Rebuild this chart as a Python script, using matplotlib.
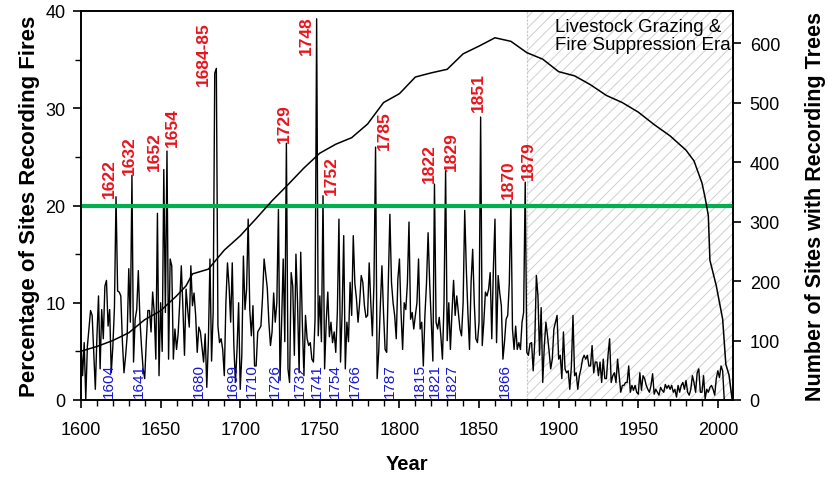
import numpy as np
import matplotlib
matplotlib.use("Agg")
import matplotlib.pyplot as plt
from matplotlib.ticker import MultipleLocator

plt.rcParams['font.family'] = ['Liberation Sans', 'DejaVu Sans']
plt.rcParams['hatch.linewidth'] = 0.7

# percentage of sites recording fire, one value per year 1600-2004
fire_years = np.arange(1600, 2005)
fire_pct = [
    6.0, 2.5, 5.9, 0.1, 5.5, 7.3, 9.2, 8.7, 5.0, 1.1,
    6.5, 10.7, 3.2, 9.3, 6.3, 11.7, 12.3, 7.6, 9.3, 2.8,
    5.5, 9.5, 20.9, 11.2, 11.1, 10.7, 6.0, 2.8, 4.5, 6.6,
    13.5, 8.0, 23.1, 3.9, 8.3, 9.3, 13.3, 8.3, 5.5, 3.2,
    2.2, 6.0, 9.2, 9.2, 7.0, 11.1, 9.0, 4.2, 19.2, 2.5,
    10.0, 5.0, 23.7, 9.0, 25.6, 4.2, 14.5, 13.8, 4.2, 7.3,
    5.2, 6.8, 10.0, 13.8, 9.5, 4.6, 11.4, 9.3, 7.5, 13.8,
    9.7, 11.0, 8.7, 4.9, 7.5, 7.0, 5.5, 3.9, 6.8, 1.3,
    6.0, 14.5, 4.0, 9.0, 33.6, 34.1, 7.6, 5.9, 6.3, 5.2,
    2.5, 10.0, 14.1, 11.7, 8.0, 14.1, 5.6, 1.8, 5.2, 10.0,
    1.1, 4.6, 14.8, 9.3, 11.4, 18.6, 9.3, 6.6, 9.7, 3.5,
    3.5, 7.0, 7.3, 7.6, 10.5, 14.5, 13.0, 11.5, 8.0, 5.6,
    7.0, 11.0, 8.0, 10.0, 19.6, 2.0, 8.0, 14.5, 6.0, 26.4,
    3.2, 1.8, 13.1, 11.7, 4.6, 15.0, 10.0, 2.8, 15.2, 8.0,
    2.5, 8.7, 6.3, 5.6, 5.9, 4.2, 3.9, 8.3, 39.2, 6.6,
    10.7, 6.0, 21.0, 3.2, 8.0, 11.1, 6.5, 8.0, 5.9, 7.0,
    4.9, 9.0, 18.6, 3.9, 9.0, 16.9, 3.2, 8.0, 6.0, 12.1,
    8.7, 16.9, 12.0, 10.4, 8.0, 10.0, 12.8, 12.1, 9.7, 8.5,
    8.7, 14.1, 10.0, 6.6, 12.0, 26.0, 2.2, 5.0, 9.7, 13.8,
    9.0, 5.2, 4.9, 12.0, 19.1, 12.1, 10.0, 8.7, 6.3, 12.4,
    14.5, 9.0, 5.2, 10.0, 9.3, 12.0, 18.3, 8.3, 9.0, 7.3,
    8.7, 10.0, 14.5, 7.3, 8.0, 3.5, 8.7, 12.0, 17.2, 12.0,
    8.0, 4.0, 22.2, 8.0, 7.3, 8.5, 6.6, 4.2, 10.0, 23.6,
    6.1, 10.0, 5.2, 9.0, 12.3, 8.7, 10.7, 9.0, 7.3, 6.6,
    10.0, 19.5, 13.5, 9.0, 5.2, 12.1, 15.5, 10.0, 6.3, 5.9,
    8.0, 29.1, 5.6, 8.0, 11.1, 10.7, 11.4, 13.1, 6.3, 13.5,
    18.6, 5.9, 12.8, 11.0, 9.7, 4.2, 6.0, 8.3, 8.7, 12.0,
    20.5, 7.3, 5.2, 7.6, 5.2, 5.9, 5.2, 8.0, 9.0, 22.4,
    4.9, 4.6, 5.8, 5.9, 3.0, 6.0, 12.8, 10.7, 4.6, 9.5,
    1.8, 5.6, 8.0, 6.6, 5.0, 3.2, 4.2, 7.3, 8.0, 8.7,
    4.2, 4.6, 2.2, 7.0, 3.2, 2.8, 3.0, 1.1, 3.5, 8.7,
    2.5, 2.8, 1.1, 2.5, 3.2, 4.2, 4.6, 4.2, 4.6, 3.5,
    3.5, 5.6, 2.8, 3.9, 3.9, 2.5, 3.9, 1.8, 4.2, 2.2,
    2.2, 4.6, 6.3, 1.8, 2.5, 2.8, 1.8, 4.2, 2.5, 0.8,
    1.5, 1.5, 1.8, 1.8, 3.5, 0.8, 1.5, 1.0, 1.5, 0.8,
    0.6, 2.8, 1.0, 2.5, 2.2, 1.5, 1.1, 0.8, 1.5, 2.7,
    0.6, 1.1, 0.8, 0.5, 1.3, 1.0, 0.8, 1.6, 1.2, 1.5,
    1.1, 1.5, 0.8, 1.1, 0.3, 1.5, 0.8, 1.5, 1.8, 1.1,
    2.0, 0.8, 0.5, 1.1, 2.5, 1.8, 0.8, 2.8, 3.2, 0.8,
    0.8, 2.5, 0.1, 1.1, 0.8, 1.3, 1.5, 1.1, 0.5, 2.2,
    3.0, 2.3, 3.5, 3.0, 0.0,
]

# number of sites with recording trees (right axis)
tree_years = [1600, 1610, 1620, 1630, 1640, 1650, 1660, 1666, 1670, 1680,
              1690, 1700, 1710, 1720, 1730, 1740, 1750, 1760, 1770, 1780,
              1790, 1800, 1810, 1820, 1830, 1840, 1850, 1860, 1870, 1880,
              1890, 1900, 1910, 1920, 1930, 1940, 1950, 1960, 1970, 1980,
              1985, 1990, 1992, 1994, 1995, 1999, 2003, 2005, 2007, 2009]
tree_count = [82, 90, 100, 113, 135, 150, 175, 192, 212, 220,
              252, 276, 305, 335, 362, 390, 415, 430, 441, 464,
              500, 515, 543, 550, 556, 582, 595, 609, 603, 584,
              573, 552, 545, 530, 512, 500, 484, 463, 444, 420,
              402, 365, 340, 310, 235, 192, 136, 60, 42, 0]

# widespread fire years (red, above the peaks)
red_labels = ['1622', '1632', '1652', '1654', '1684-85', '1729', '1748',
              '1752', '1785', '1822', '1829', '1851', '1870', '1879']
red_x = [1617.6, 1630.6, 1645.9, 1657.4, 1676.7, 1727.7, 1741.3,
         1757.0, 1790.6, 1818.9, 1832.5, 1849.7, 1868.7, 1880.7]
red_y = [20.9, 23.2, 23.6, 26.1, 32.4, 26.5, 35.6,
         21.2, 25.8, 22.4, 23.6, 29.7, 20.8, 22.7]

# blue labels along the bottom
blue_labels = ['1604', '1641', '1680', '1699', '1710', '1726', '1732', '1741',
               '1754', '1766', '1787', '1815', '1821', '1827', '1866']
blue_x = [1617.2, 1636.5, 1673.8, 1695.6, 1707.1, 1721.8, 1737.5, 1748.0,
          1759.3, 1771.9, 1793.7, 1812.6, 1822.4, 1832.8, 1866.0]

era_start = 1880
threshold = 20

fig = plt.figure(figsize=(8.29, 4.81), dpi=100)
ax = fig.add_axes([81 / 829, 1 - 401 / 481, (733 - 81) / 829, (401 - 12) / 481])
ax2 = ax.twinx()

ax.axvspan(era_start, 2009.5, facecolor='white', edgecolor='#cfcfcf',
           hatch='///', linewidth=0, zorder=0)
ax.axvline(era_start, color='#c3d3c3', lw=0.9, ls=(0, (2, 1)), zorder=0.5)

ax.plot(fire_years, fire_pct, color='black', lw=1.0, zorder=2)
ax.axhline(threshold, color='#00b04f', lw=3, zorder=3)
ax2.plot(tree_years, tree_count, color='black', lw=1.1)

for txt, x, y in zip(red_labels, red_x, red_y):
    ax.text(x, y, txt, rotation=90, ha='center', va='bottom', color='#e8141c',
            fontsize=12.5, fontweight='bold', zorder=4)
for txt, x in zip(blue_labels, blue_x):
    ax.text(x, 0.3, txt, rotation=90, ha='center', va='bottom', color='#1616d0',
            fontsize=11, zorder=4)

ax.text(1897.5, 39.3, 'Livestock Grazing &\nFire Suppression Era', ha='left', va='top',
        fontsize=13.5, linespacing=1.1)

ax.set_xlim(1600, 2009.5)
ax.set_ylim(0, 40)
ax2.set_ylim(0, 654)
ax.xaxis.set_major_locator(MultipleLocator(50))
ax.xaxis.set_minor_locator(MultipleLocator(10))
ax.yaxis.set_major_locator(MultipleLocator(10))
ax.yaxis.set_minor_locator(MultipleLocator(5))
ax2.yaxis.set_major_locator(MultipleLocator(100))

for a in (ax, ax2):
    a.tick_params(which='major', direction='out', length=6, width=1.2, labelsize=13)
    a.tick_params(which='minor', direction='out', length=4, width=1.0)
    for s in a.spines.values():
        s.set_linewidth(1.2)
ax.tick_params(axis='x', which='major', pad=9)
ax.tick_params(axis='y', which='major', pad=5)
ax2.tick_params(axis='y', which='major', pad=6)

ax.set_xlabel('Year', fontsize=14.5, fontweight='bold', labelpad=12)
ax.set_ylabel('Percentage of Sites Recording Fires', fontsize=16, fontweight='bold', labelpad=4)
ax2.set_ylabel('Number of Sites with Recording Trees', fontsize=15.5, fontweight='bold', labelpad=18)

fig.savefig('out.png', dpi=100)
